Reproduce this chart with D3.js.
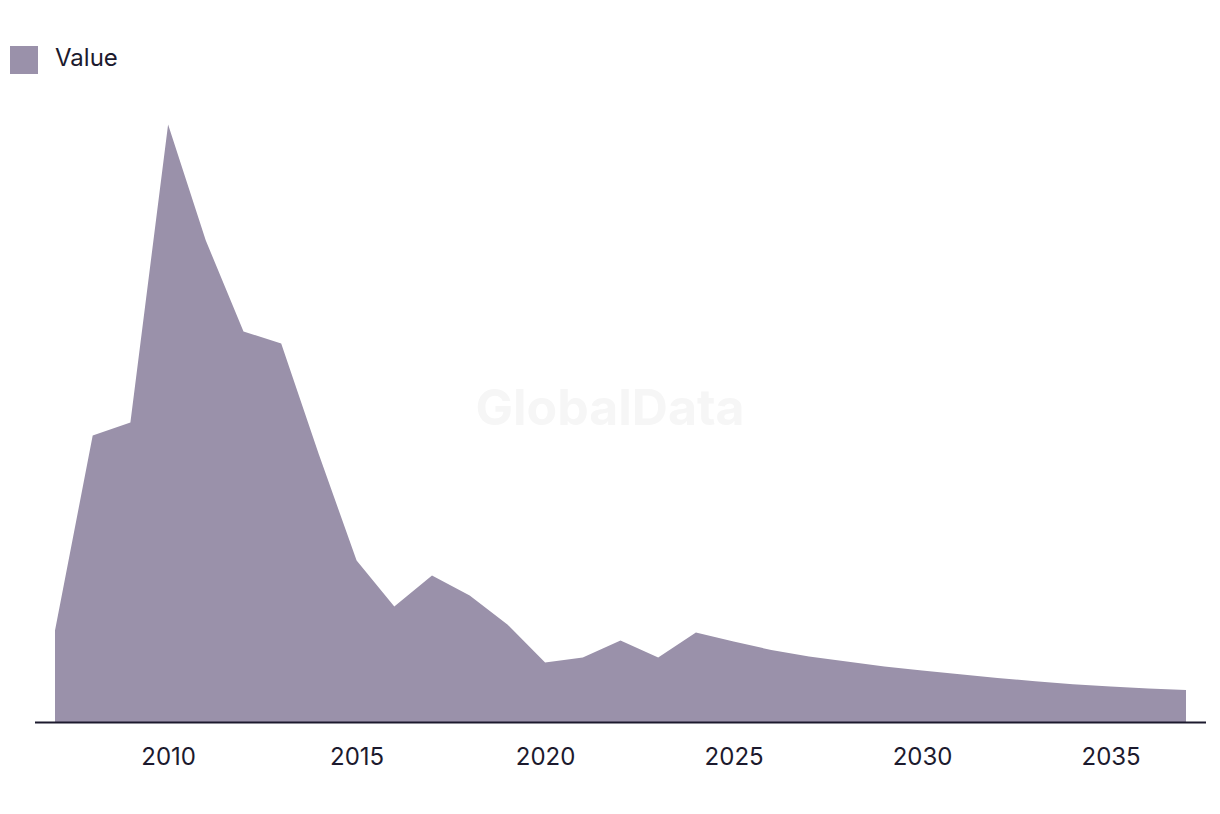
<!DOCTYPE html>
<html><head><meta charset="utf-8">
<script src="https://cdn.jsdelivr.net/npm/d3@7"></script>
<style>body{margin:0;background:#fff;}svg{display:block;}</style>
</head><body>
<svg id="chart" width="1220" height="814"></svg>
<script>
const years = d3.range(2007, 2038);
const values = [92, 287, 300, 598, 482, 391, 379, 268, 162, 116, 147, 127, 98, 60, 65, 82, 65, 90, 81, 72.5, 66, 61, 56, 52, 48.2, 44.6, 41.2, 38.3, 35.9, 34, 32.4];
const seriesName = "Value";
const tickYears = [2010, 2015, 2020, 2025, 2030, 2035];

const color = "#9a91aa";
const ink = "#1c1a2e";
const svg = d3.select("#chart");

const x = d3.scaleLinear().domain([2007, 2037]).range([55, 1186]);
const y = d3.scaleLinear().domain([0, 600]).range([722.5, 122.5]);

svg.append("text").attr("x", 610).attr("y", 425).attr("text-anchor", "middle")
  .attr("font-family", "Inter, Roboto, sans-serif").attr("font-weight", 700)
  .attr("font-size", 50).attr("fill", "#f6f6f6").text("GlobalData");

const data = years.map((yr, i) => ({yr, v: values[i]}));
const area = d3.area().x(d => x(d.yr)).y0(y(0)).y1(d => y(d.v));
svg.append("path").datum(data).attr("d", area).attr("fill", color);

const axis = d3.axisBottom(x).tickValues(tickYears).tickFormat(d3.format("d")).tickSize(0).tickPadding(25);
const g = svg.append("g").attr("transform", `translate(0,${y(0)})`).call(axis);
g.select(".domain").remove();
g.selectAll("text").attr("font-family", "Inter, sans-serif").attr("font-size", 24).attr("fill", ink);
svg.append("line").attr("x1", 35).attr("x2", 1206).attr("y1", y(0)).attr("y2", y(0))
  .attr("stroke", ink).attr("stroke-width", 2);

svg.append("rect").attr("x", 10).attr("y", 46).attr("width", 28).attr("height", 28).attr("fill", color);
svg.append("text").attr("x", 55).attr("y", 66).attr("font-family", "Inter, sans-serif")
  .attr("font-size", 24).attr("fill", ink).text(seriesName);
</script>
</body></html>
